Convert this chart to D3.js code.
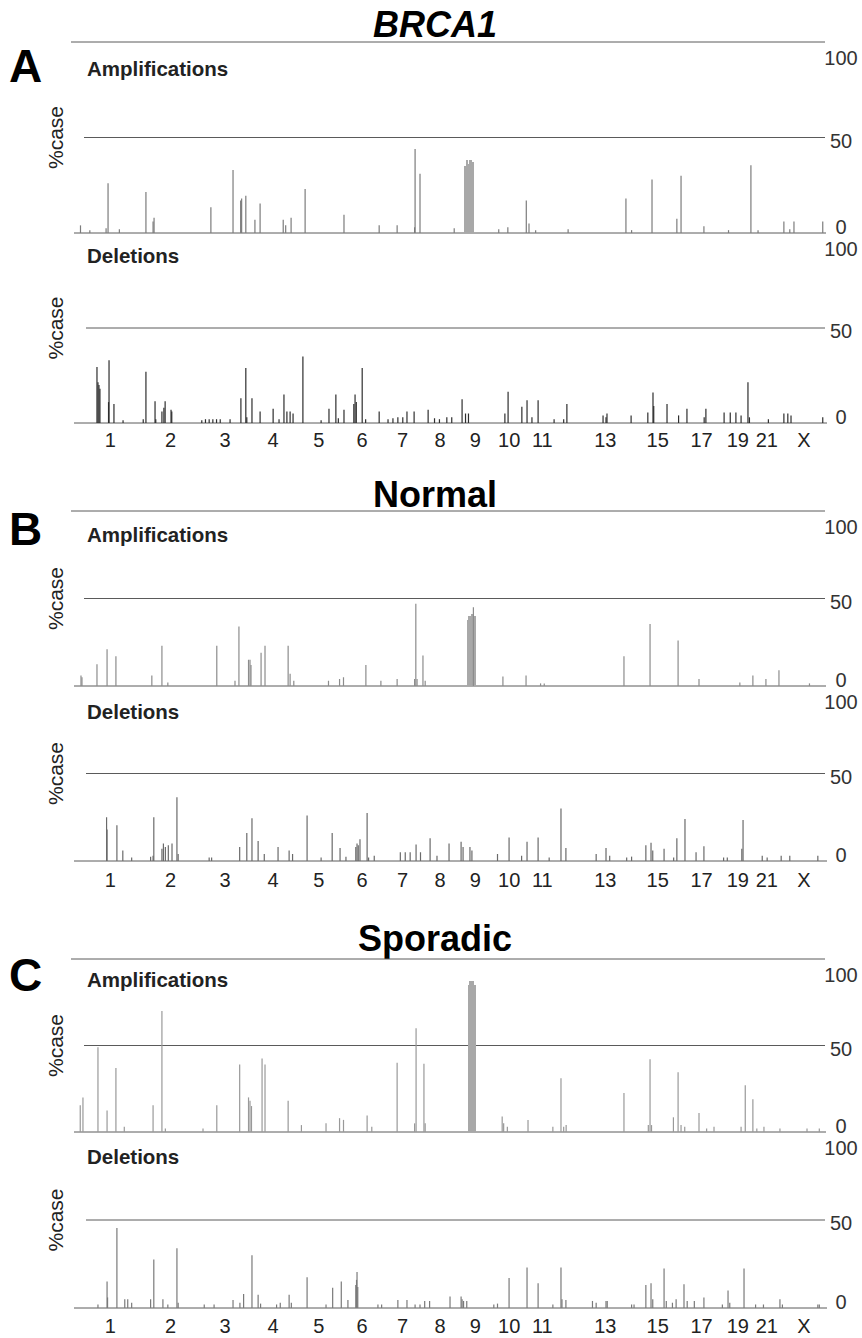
<!DOCTYPE html>
<html>
<head>
<meta charset="utf-8">
<script src="https://cdn.jsdelivr.net/npm/d3@7"></script>
<style>
  body { margin: 0; background: #fff; }
  text { font-family: "Liberation Sans", Arial, sans-serif; }
</style>
</head>
<body>
<div id="app"></div>
<script>
// chromosome layout (Mb)
const chromosomes = ["1","2","3","4","5","6","7","8","9","10","11","12","13","14","15","16","17","18","19","20","21","22","X"];
const chromLengths = [247,243,199,191,181,171,159,146,140,135,134,132,114,106,100,89,79,76,64,62,47,50,155];
const chromLabels = ["1","2","3","4","5","6","7","8","9","10","11","13","15","17","19","21","X"];
const yTicks = [0, 50, 100];

// [chromosome, position Mb, % cases]
const brcaAmp = [
  ["1",2,4],["1",40,1.5],["1",106,2.5],["1",114,26],["1",160,2],["2",21,21.5],["2",50,6],["2",54,8],
  ["3",42,13.5],["3",132,33],["3",163,17],["3",167,18],["3",184,19.5],["4",22,7],["4",43,15.5],
  ["4",137,7],["4",147,4],["4",169,8],["5",35,23],["6",12,9.5],["6",155,4],["7",57,4],["7",128,3],
  ["7",130,44],["7",150,31],["8",130,2.5],["10",25,2],["10",62,3],["11",2,17],["11",13,5],["11",40,1.5],
  ["12",38,2],["14",27,18],["14",50,1.5],["15",27,28],["16",28,7.5],["16",45,30],["17",49,3.5],
  ["18",70,1.5],["20",21,35.5],["20",50,1.5],["22",46,6],["X",20,2],["X",37,6],["X",154,6]
];
// [chromosome, start Mb, end Mb, % cases]
const brcaAmpBlocks = [["9",24,30,35],["9",30,38,38],["9",38,46,36],["9",46,54,38],["9",54,64,37]];

const brcaDel = [
  ["1",69,29.5],["1",73,21.5],["1",77,20],["1",81,18],["1",116,11],["1",118,33],["1",138,10],["1",175,1.5],
  ["2",10,2],["2",21,27],["2",58,11.5],["2",61,2],["2",86,6],["2",94,8],["2",99,11.5],["2",123,7],["2",126,6],
  ["3",5,1.5],["3",20,2],["3",35,2],["3",50,2],["3",65,2],["3",80,2],["3",120,2],["3",164,13],["3",184,29],
  ["3",188,3],["4",10,13],["4",43,6],["4",96,7.5],["4",120,2],["4",140,15],["4",152,6],["4",165,6],["4",177,5],
  ["5",26,35],["5",100,1.5],["5",132,7.5],["5",160,15],["5",170,2.5],["6",12,7],["6",52,10],["6",57,15],
  ["6",62,11],["6",86,29],["6",100,2],["6",155,6],["7",20,2],["7",40,2.5],["7",60,3],["7",80,3],["7",97,6],
  ["7",126,6],["8",24,7],["8",50,2.5],["8",70,2],["8",100,3],["8",120,3],["9",16,12.5],["9",30,5],["9",42,5],
  ["10",50,5],["10",63,16.5],["10",119,8.5],["11",5,12],["11",25,3],["11",50,12],["11",115,2],["12",20,2],
  ["12",33,10],["13",48,4],["13",60,3],["13",64,5],["14",48,4],["15",10,5.5],["15",31,16],["15",34,9],
  ["15",88,10],["16",35,4],["16",69,7.5],["17",50,3],["17",57,7.5],["18",52,5.5],["19",1,5.5],["19",24,5.5],
  ["19",45,4],["20",9,21.5],["20",15,3],["21",30,2],["22",46,5],["X",12,5],["X",25,4],["X",154,3]
];

const normalAmp = [
  ["1",4,6],["1",8,5],["1",69,12.5],["1",110,21],["1",146,17],["2",45,6],["2",86,23],["2",110,2],
  ["3",66,23],["3",140,3],["3",156,34],["3",195,15],["4",2,15],["4",6,12],["4",47,19],["4",63,23],
  ["4",157,23],["4",165,7],["4",180,3],["5",130,3],["5",175,4],["6",10,5],["6",101,12],["6",162,3],
  ["7",57,4],["7",128,4],["7",133,47],["7",138,4],["8",3,17.5],["8",12,3],["9",62,45],["10",42,5.5],
  ["11",1,6],["11",60,1.5],["11",75,1.5],["14",19,17],["15",19,35.5],["16",33,26],["17",29,4],
  ["19",40,2],["20",29,6],["21",20,4],["22",26,9],["X",100,1.5]
];
const normalAmpBlocks = [["9",36,42,38],["9",42,48,40],["9",48,54,39],["9",54,60,41],["9",60,69,40]];

const normalDel = [
  ["1",108,25],["1",110,18],["1",150,20.5],["1",174,6],["1",210,2],["2",40,2.5],["2",50,3],["2",53,25],
  ["2",86,7],["2",92,10],["2",100,8],["2",112,9],["2",127,10],["2",147,36.5],["2",152,4],["3",35,2],
  ["3",45,2],["3",159,8],["3",188,16],["4",10,24.5],["4",35,11.5],["4",60,4],["4",116,8],["4",161,6],
  ["4",175,4],["5",43,26],["5",100,2],["5",145,16],["5",177,7.5],["6",20,2.5],["6",60,8],["6",65,10],
  ["6",70,9],["6",77,12.5],["6",106,27.5],["6",112,2],["6",135,3],["7",70,5],["7",90,5],["7",110,5],
  ["7",134,9.5],["7",152,5],["8",32,13],["8",60,3],["8",109,10],["9",12,11],["9",20,8],["9",48,8],
  ["9",56,6],["10",20,4],["10",67,13.5],["10",118,3],["11",5,11],["11",50,13.5],["11",95,2],["12",9,30],
  ["12",29,7.5],["13",20,4],["13",60,7.5],["13",75,3],["14",30,2],["14",50,2.5],["15",2,9],["15",23,10.5],
  ["15",30,6],["15",76,7],["16",15,2],["16",28,13],["16",61,24],["17",17,5],["17",49,8.5],["18",50,2],
  ["18",65,2],["19",48,7],["19",53,23.5],["21",5,3],["21",25,2],["22",35,3],["X",20,3],["X",134,3]
];

const sporadicAmp = [
  ["1",1,15.5],["1",12,20],["1",73,49],["1",110,12.5],["1",146,37],["1",180,3],["2",50,15.5],["2",86,70],
  ["2",100,2],["3",10,2],["3",66,15.5],["3",159,39],["3",195,20],["4",2,18],["4",8,15],["4",51,42.5],
  ["4",63,39],["4",157,18],["5",20,4],["5",120,5],["5",175,8],["6",10,7],["6",106,9.5],["6",125,3],
  ["7",57,40],["7",128,5],["7",134,60],["8",7,39.5],["8",12,5],["10",39,9],["10",45,5],["10",60,3],
  ["11",9,7],["11",110,3],["12",9,31],["12",20,3],["12",30,4],["14",19,22.5],["15",12,4],["15",19,42],
  ["15",25,4],["16",14,8.5],["16",33,34.5],["16",45,4],["16",60,3],["17",29,11],["17",60,2],["18",11,3],
  ["19",45,3],["19",62,27],["20",29,19],["20",45,2],["21",12,3],["22",30,2],["X",90,2],["X",140,2]
];
const sporadicAmpBlocks = [["9",40,46,85],["9",46,52,87],["9",52,58,86],["9",58,64,87],["9",64,69,85]];

const sporadicDel = [
  ["1",73,2],["1",110,15],["1",112,6],["1",150,45.5],["1",182,5],["1",194,5],["1",210,3],["2",40,5],
  ["2",53,27.5],["2",90,5],["2",110,2],["2",147,34],["2",152,3],["3",15,2],["3",55,2],["3",132,4.5],
  ["3",160,3],["3",175,8],["4",10,30],["4",35,7.5],["4",45,2.5],["4",110,2],["4",125,3],["4",161,7.5],
  ["4",170,3],["5",43,17.5],["5",120,2],["5",147,11.5],["6",1,15],["6",28,4.5],["6",60,13],["6",63,16],
  ["6",65,20.5],["6",68,12],["6",150,2],["6",165,2],["7",60,4.5],["7",97,4.5],["7",130,2],["7",150,2],
  ["8",10,4],["8",30,4],["8",113,6.5],["9",12,6.5],["9",16,5],["9",22,4],["9",35,4],["10",5,2],["10",20,2.5],
  ["10",67,17],["11",5,23],["11",50,14],["11",110,2],["12",9,23],["12",13,5],["12",29,4.5],["13",5,4],
  ["13",20,3],["13",60,4],["13",65,4],["14",50,2],["14",60,2],["15",2,13],["15",23,14],["15",30,5],
  ["15",76,22.5],["15",85,4],["16",10,3],["16",25,5],["16",57,13.5],["16",70,4],["17",10,4],["17",49,6],
  ["18",45,2],["18",68,10],["18",75,3],["19",57,22.5],["20",40,2],["21",10,2],["22",30,5],["22",40,2],
  ["X",134,2],["X",140,2]
];

// cumulative chromosome offsets
let offsets = {};
let total = 0;
chromosomes.forEach((c, i) => { offsets[c] = total; total += chromLengths[i]; });
function gpos(c, mb) { return offsets[c] + mb; }

let x = d3.scaleLinear().domain([0, total]).range([80, 823]);

let svg = d3.select("#app")
  .append("svg")
    .attr("width", 862)
    .attr("height", 1338);

let panels = [
  {title: "BRCA1", italic: true, letter: "A", titleY: 37, letterY: 82, top: 42, mid: 233, bottom: 423,
   ampY: 76, delY: 263, chrY: 447, tickFont: 20,
   amp: brcaAmp, blocks: brcaAmpBlocks, del: brcaDel, ampColor: "#7c7c7c", delColor: "#2e2e2e"},
  {title: "Normal", italic: false, letter: "B", titleY: 507, letterY: 545, top: 511, mid: 686, bottom: 861,
   ampY: 542, delY: 719, chrY: 887, tickFont: 20,
   amp: normalAmp, blocks: normalAmpBlocks, del: normalDel, ampColor: "#8c8c8c", delColor: "#6a6a6a"},
  {title: "Sporadic", italic: false, letter: "C", titleY: 951, letterY: 991, top: 959, mid: 1132, bottom: 1308,
   ampY: 987, delY: 1164, chrY: 1333, tickFont: 20,
   amp: sporadicAmp, blocks: sporadicAmpBlocks, del: sporadicDel, ampColor: "#999999", delColor: "#7a7a7a"}
];

// small offsets of the right-hand labels relative to their lines
function labelShift(t) { return t === 100 ? 16 : t === 50 ? 3 : -6; }

panels.forEach(p => {
  let g = svg.append("g").attr("class", "panel");
  let yAmp = d3.scaleLinear().domain([0, 100]).range([p.mid, p.top]);
  let yDel = d3.scaleLinear().domain([0, 100]).range([p.bottom, p.mid]);

  // title and panel letter
  g.append("text")
    .attr("x", 435).attr("y", p.titleY)
    .attr("text-anchor", "middle")
    .style("font-size", "36px").style("font-weight", "bold")
    .style("font-style", p.italic ? "italic" : "normal")
    .text(p.title);
  g.append("text")
    .attr("x", 9).attr("y", p.letterY)
    .style("font-size", "46px").style("font-weight", "bold")
    .text(p.letter);

  // grid lines
  let lines = [
    {y: yAmp(100), x1: 71, x2: 825},
    {y: yAmp(50), x1: 84, x2: 825},
    {y: yAmp(0), x1: 74, x2: 826},
    {y: yDel(50), x1: 86, x2: 825},
    {y: yDel(0), x1: 74, x2: 827}
  ];
  g.selectAll(".grid").data(lines).enter()
    .append("line")
      .attr("x1", d => d.x1).attr("x2", d => d.x2)
      .attr("y1", d => d.y).attr("y2", d => d.y)
      .attr("stroke", "#5a5a5a").attr("stroke-width", 1);

  // sub-titles
  g.append("text").attr("x", 87).attr("y", p.ampY)
    .style("font-size", "20.5px").style("font-weight", "bold").attr("fill", "#222")
    .text("Amplifications");
  g.append("text").attr("x", 87).attr("y", p.delY)
    .style("font-size", "20.5px").style("font-weight", "bold").attr("fill", "#222")
    .text("Deletions");

  // %case labels
  [yAmp, yDel].forEach(ys => {
    g.append("text")
      .attr("transform", "translate(63," + ((ys(0) + ys(100)) / 2) + ") rotate(-90)")
      .attr("text-anchor", "middle")
      .style("font-size", "21px").attr("fill", "#222")
      .text("%case");
  });

  // right tick labels
  [yAmp, yDel].forEach(ys => {
    g.selectAll(null).data(yTicks).enter()
      .append("text")
        .attr("x", 841)
        .attr("y", d => ys(d) + labelShift(d))
        .attr("dy", "0.35em")
        .attr("text-anchor", "middle")
        .style("font-size", p.tickFont + "px").attr("fill", "#333")
        .text(d => d);
  });

  // amplification block (dense region)
  g.selectAll(null).data(p.blocks).enter()
    .append("rect")
      .attr("x", d => x(gpos(d[0], d[1])))
      .attr("width", d => x(gpos(d[0], d[2])) - x(gpos(d[0], d[1])) + 0.6)
      .attr("y", d => yAmp(d[3]))
      .attr("height", d => yAmp(0) - yAmp(d[3]))
      .attr("fill", "#a8a8a8")
      .attr("shape-rendering", "crispEdges");

  // spikes
  g.selectAll(null).data(p.amp).enter()
    .append("line")
      .attr("x1", d => x(gpos(d[0], d[1]))).attr("x2", d => x(gpos(d[0], d[1])))
      .attr("y1", yAmp(0)).attr("y2", d => yAmp(d[2]))
      .attr("stroke", p.ampColor).attr("stroke-width", 1.2);
  g.selectAll(null).data(p.del).enter()
    .append("line")
      .attr("x1", d => x(gpos(d[0], d[1]))).attr("x2", d => x(gpos(d[0], d[1])))
      .attr("y1", yDel(0)).attr("y2", d => yDel(d[2]))
      .attr("stroke", p.delColor).attr("stroke-width", 1.2);

  // chromosome labels
  g.selectAll(null).data(chromLabels).enter()
    .append("text")
      .attr("x", c => x(offsets[c] + chromLengths[chromosomes.indexOf(c)] / 2))
      .attr("y", p.chrY)
      .attr("text-anchor", "middle")
      .style("font-size", p.tickFont + "px").attr("fill", "#222")
      .text(c => c);
});
</script>
</body>
</html>
